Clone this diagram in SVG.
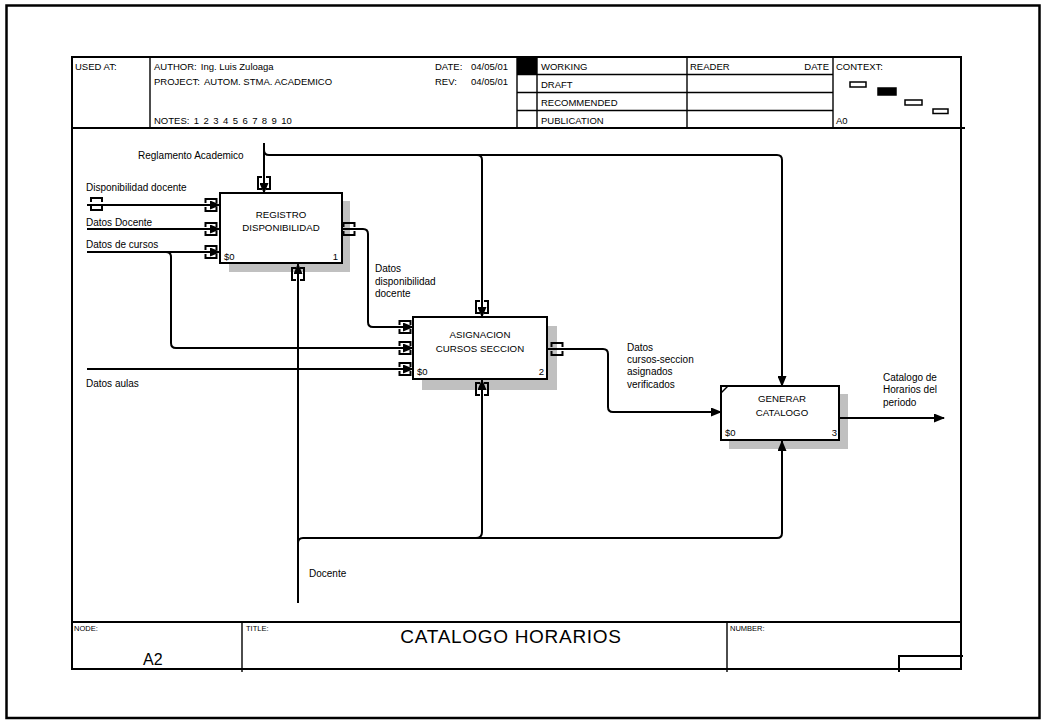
<svg xmlns="http://www.w3.org/2000/svg" width="1046" height="722" viewBox="0 0 1046 722">
<defs>
<marker id="ah" markerUnits="userSpaceOnUse" markerWidth="11" markerHeight="9" refX="10" refY="4.5" orient="auto"><path d="M0,0 L11,4.5 L0,9 z" fill="#000"/></marker>
<path id="tunH" d="M-5.5,-2 V-6 H5.5 V-2 M-5.5,2 V6 H5.5 V2" fill="none" stroke="#000" stroke-width="2"/>
<path id="tunV" d="M-2,-6 H-6 V6 H-2 M2,-6 H6 V6 H2" fill="none" stroke="#000" stroke-width="2"/>
</defs>
<style>
text{font-family:"Liberation Sans",Arial,sans-serif;fill:#000}
.h{font-size:9.5px}
.f{font-size:7.5px}
.lbl{font-size:10px}
.bx{font-size:9.7px;text-anchor:middle}
.sm{font-size:9.5px}
.frame{fill:none;stroke:#000;stroke-width:2}
.thin{fill:none;stroke:#000;stroke-width:1.4}
.box{fill:#fff;stroke:#000;stroke-width:2}
.sh{fill:#c0c0c0}
.c{fill:none;stroke:#000;stroke-width:2}
.ca{fill:none;stroke:#000;stroke-width:2;marker-end:url(#ah)}
</style>
<rect x="0" y="0" width="1046" height="722" fill="#fff"/>
<rect x="6.5" y="5.5" width="1033" height="712.5" fill="none" stroke="#000" stroke-width="2.5"/>

<g id="frame">
<rect class="frame" x="72" y="57" width="889" height="612"/>
<line class="frame" x1="72" y1="128" x2="965" y2="128"/>
<line class="thin" x1="150" y1="57" x2="150" y2="128"/>
<line class="thin" x1="517" y1="57" x2="517" y2="128"/>
<line class="thin" x1="537" y1="57" x2="537" y2="128"/>
<line class="thin" x1="687" y1="57" x2="687" y2="128"/>
<line class="thin" x1="833" y1="57" x2="833" y2="128"/>
<line class="thin" x1="517" y1="74.5" x2="833" y2="74.5"/>
<line class="thin" x1="517" y1="92.5" x2="833" y2="92.5"/>
<line class="thin" x1="517" y1="110.5" x2="833" y2="110.5"/>
<rect x="517" y="57" width="20" height="17.5" fill="#000"/>
<text class="h" x="75" y="70">USED AT:</text>
<text class="h" x="154" y="70">AUTHOR:<tspan dx="4">Ing. Luis Zuloaga</tspan></text>
<text class="h" x="154" y="85">PROJECT:<tspan dx="4">AUTOM. STMA. ACADEMICO</tspan></text>
<text class="h" x="154" y="124" word-spacing="1.8">NOTES: 1 2 3 4 5 6 7 8 9 10</text>
<text class="h" x="435" y="70">DATE:</text>
<text class="h" x="471" y="70">04/05/01</text>
<text class="h" x="435" y="85">REV:</text>
<text class="h" x="471" y="85">04/05/01</text>
<text class="h" x="541" y="70">WORKING</text>
<text class="h" x="541" y="88">DRAFT</text>
<text class="h" x="541" y="106">RECOMMENDED</text>
<text class="h" x="541" y="124">PUBLICATION</text>
<text class="h" x="690" y="70">READER</text>
<text class="h" x="829" y="70" text-anchor="end">DATE</text>
<text class="h" x="836" y="70">CONTEXT:</text>
<text class="h" x="836" y="124">A0</text>
<rect x="850" y="82" width="16" height="5" fill="#fff" stroke="#000" stroke-width="1.5"/>
<rect x="878" y="88" width="18" height="7" fill="#000" stroke="#000" stroke-width="1.5"/>
<rect x="905" y="100" width="17" height="5" fill="#fff" stroke="#000" stroke-width="1.5"/>
<rect x="933" y="109" width="15" height="4.5" fill="#fff" stroke="#000" stroke-width="1.5"/>

<line class="frame" x1="72" y1="622" x2="961" y2="622"/>
<line class="thin" x1="242" y1="622" x2="242" y2="672"/>
<line class="thin" x1="727" y1="622" x2="727" y2="672"/>
<path class="frame" d="M899,672 V656 H963"/>
<text class="f" x="74" y="631">NODE:</text>
<text x="143" y="665" font-size="16">A2</text>
<text class="f" x="246" y="631">TITLE:</text>
<text x="511" y="643" font-size="19" text-anchor="middle" letter-spacing="0.7">CATALOGO HORARIOS</text>
<text class="f" x="730" y="631">NUMBER:</text>
</g>

<g id="box1">
<rect class="sh" x="229" y="201" width="121" height="71"/>
<rect class="box" x="220" y="193" width="122" height="70"/>
<text class="bx" x="281" y="218">REGISTRO</text>
<text class="bx" x="281" y="231">DISPONIBILIDAD</text>
<text class="sm" x="224" y="260">$0</text>
<text class="sm" x="338" y="260" text-anchor="end">1</text>
</g>

<g id="box2">
<rect class="sh" x="422" y="326" width="135" height="64"/>
<rect class="box" x="413" y="317" width="134" height="62"/>
<text class="bx" x="480" y="338">ASIGNACION</text>
<text class="bx" x="480" y="352">CURSOS SECCION</text>
<text class="sm" x="417" y="375">$0</text>
<text class="sm" x="544" y="375" text-anchor="end">2</text>
</g>

<g id="box3">
<rect class="sh" x="729" y="394" width="119" height="55"/>
<rect class="box" x="721" y="386" width="118" height="54"/>
<path d="M721,393 L728,386" stroke="#000" stroke-width="1.5"/>
<text class="bx" x="782" y="402">GENERAR</text>
<text class="bx" x="782" y="416">CATALOGO</text>
<text class="sm" x="725" y="436">$0</text>
<text class="sm" x="837" y="436" text-anchor="end">3</text>
</g>

<g id="connectors">
<path class="ca" d="M264,143 V193"/>
<path class="ca" d="M264,150 Q264,155 269,155 H777 Q782,155 782,160 V386"/>
<path class="ca" d="M477,155 Q482,155 482,160 V317"/>
<path class="ca" d="M87,205 H220"/>
<path class="ca" d="M87,229 H220"/>
<path class="ca" d="M87,252 H220"/>
<path class="ca" d="M166,252 Q171,252 171,257 V343 Q171,348 176,348 H413"/>
<path class="ca" d="M87,369 H413"/>
<path class="ca" d="M342,229 H363 Q368,229 368,234 V322 Q368,327 373,327 H413"/>
<path class="ca" d="M547,349 H603 Q608,349 608,354 V407 Q608,412 613,412 H721"/>
<path class="ca" d="M839,418 H944"/>
<path class="ca" d="M298,603 V264"/>
<path class="ca" d="M298,543 Q298,538 303,538 H777 Q782,538 782,533 V441"/>
<path class="ca" d="M476,538 Q482,538 482,532 V380"/>
<use href="#tunH" x="96.5" y="204"/>
<use href="#tunH" x="211" y="205"/>
<use href="#tunH" x="211" y="229"/>
<use href="#tunH" x="211" y="252"/>
<use href="#tunV" x="264" y="183"/>
<use href="#tunV" x="298" y="274"/>
<use href="#tunH" x="349" y="229"/>
<use href="#tunH" x="405" y="327"/>
<use href="#tunH" x="405" y="348"/>
<use href="#tunH" x="405" y="369"/>
<use href="#tunV" x="482" y="307"/>
<use href="#tunV" x="482" y="389"/>
<use href="#tunH" x="557" y="349"/>
<text class="lbl" x="138" y="159">Reglamento Academico</text>
<text class="lbl" x="86" y="191">Disponibilidad docente</text>
<text class="lbl" x="86" y="226">Datos Docente</text>
<text class="lbl" x="86" y="248">Datos de cursos</text>
<text class="lbl" x="86" y="387">Datos aulas</text>
<text class="lbl" x="375" y="272">Datos</text>
<text class="lbl" x="375" y="285">disponibilidad</text>
<text class="lbl" x="375" y="297">docente</text>
<text class="lbl" x="627" y="351">Datos</text>
<text class="lbl" x="627" y="363">cursos-seccion</text>
<text class="lbl" x="627" y="375">asignados</text>
<text class="lbl" x="627" y="388">verificados</text>
<text class="lbl" x="883" y="381">Catalogo de</text>
<text class="lbl" x="883" y="393">Horarios del</text>
<text class="lbl" x="883" y="406">periodo</text>
<text class="lbl" x="309" y="577">Docente</text>
</g>
</svg>
